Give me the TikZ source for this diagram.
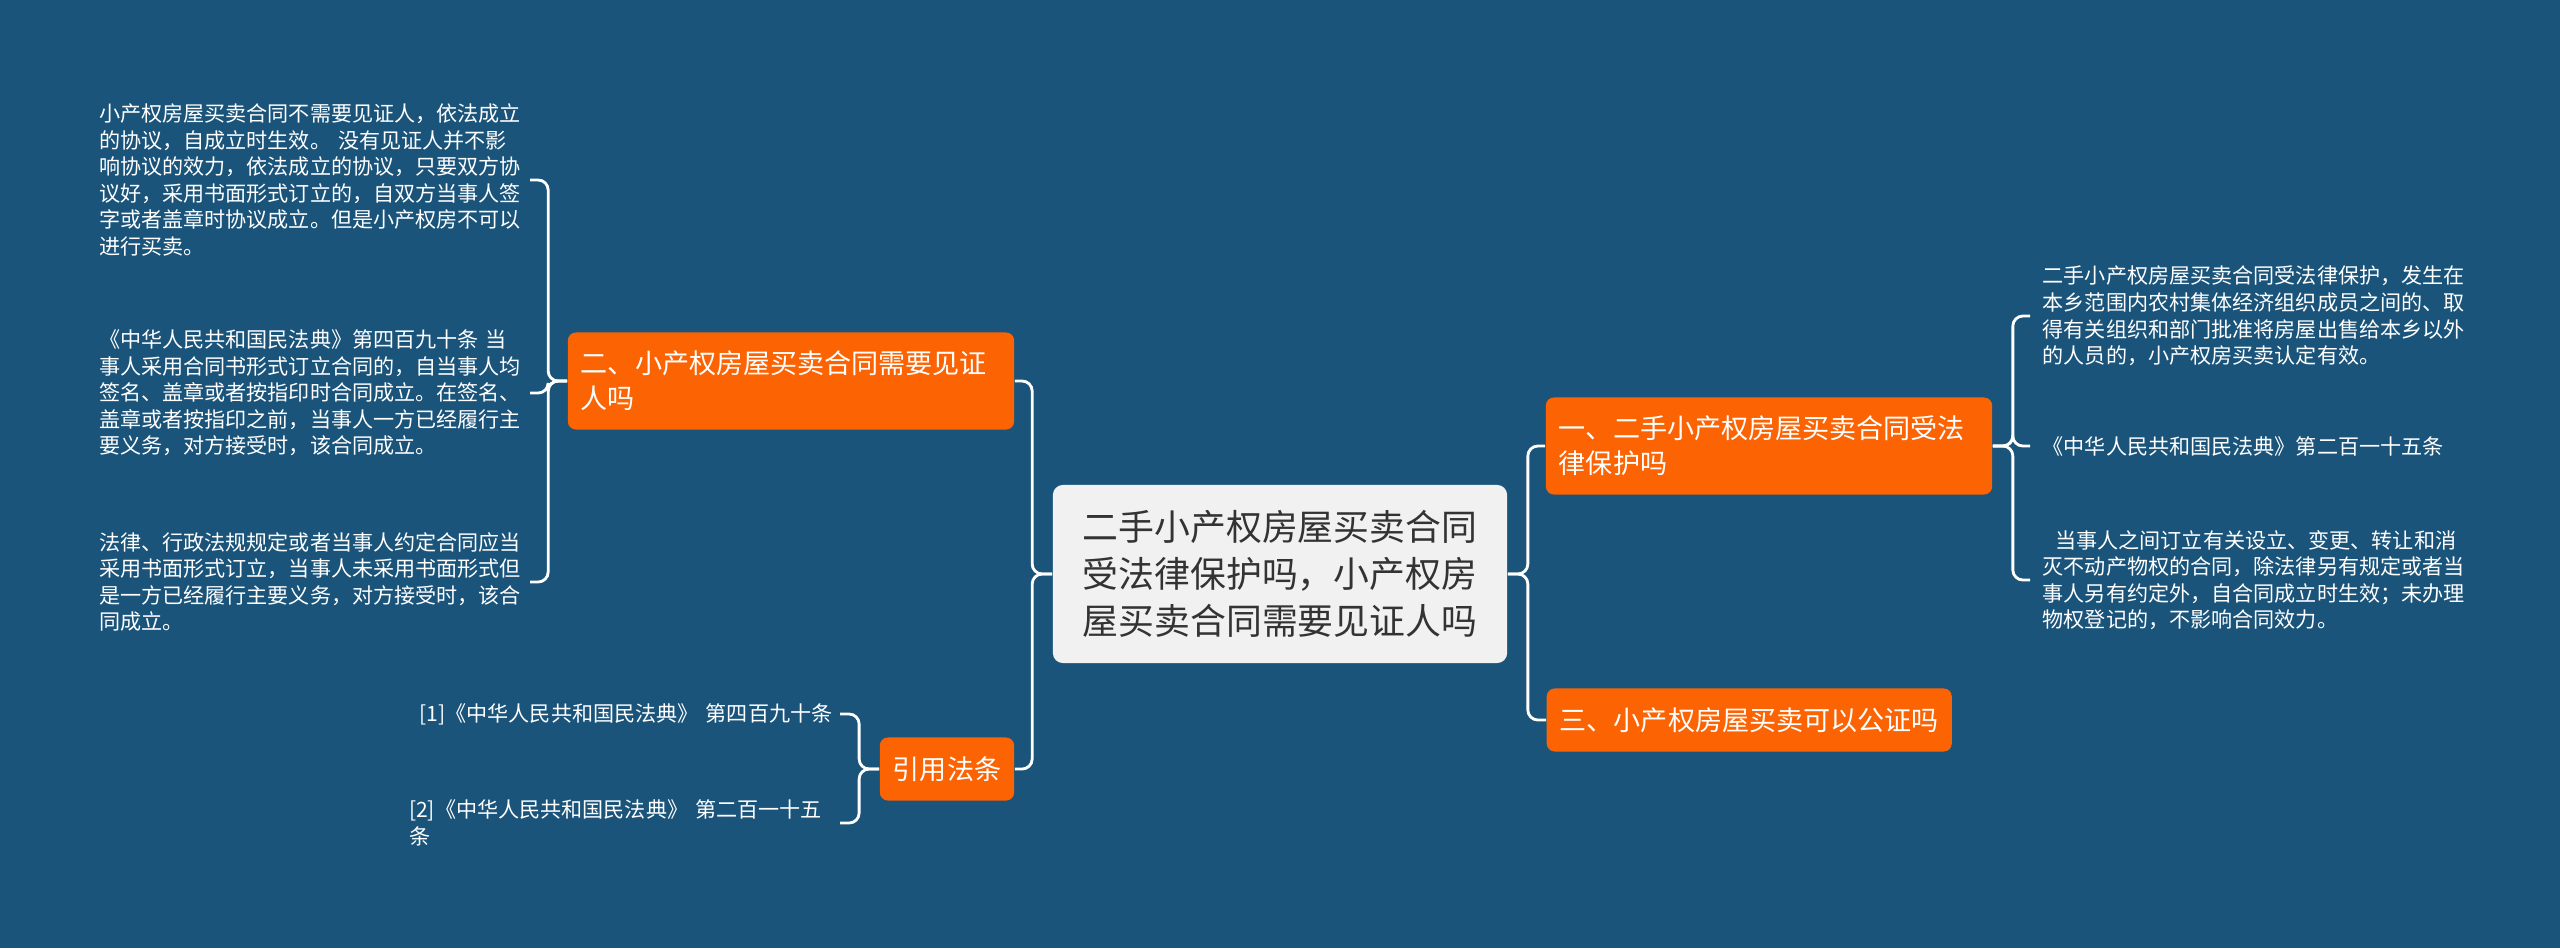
\documentclass[tikz,border=0pt]{standalone}
\usepackage{fontspec}
\setmainfont{Noto Sans CJK SC}
\definecolor{mapbg}{RGB}{26,84,122}
\definecolor{topicorange}{RGB}{252,99,3}
\definecolor{rootgray}{RGB}{241,241,241}
\definecolor{roottext}{RGB}{51,51,51}
\begin{document}
\begin{tikzpicture}[x=0.01cm, y=-0.01cm,
  link/.style={draw=white, line width=0.8pt, rounded corners=0.1cm},
  rootbox/.style={fill=rootgray, text=roottext, rounded corners=0.1cm,
    minimum width=4.54cm, minimum height=1.78cm, align=center, inner sep=0pt,
    font=\fontsize{10.2pt}{13.3pt}\selectfont},
  topic/.style={fill=topicorange, text=white, rounded corners=0.08cm,
    inner xsep=0.13cm, inner ysep=0pt, minimum height=0.63cm,
    font=\fontsize{7.7pt}{10pt}\selectfont},
  topicwide/.style={topic, text width=4.2cm, align=left, minimum height=0.97cm},
  leaf/.style={text=white, text width=4.25cm, align=left,
    inner xsep=0.05cm, inner ysep=0pt, font=\fontsize{6pt}{7.55pt}\selectfont}]

  % ────────────────────────────────────────────────────────────────────
  % canvas
  % ────────────────────────────────────────────────────────────────────
  \fill[mapbg] (0,0) rectangle (2560,948);
  \useasboundingbox (0,0) rectangle (2560,948);

  % ────────────────────────────────────────────────────────────────────
  % root + first-level topics
  % ────────────────────────────────────────────────────────────────────
  \node[rootbox] (root) at (1280,574)
    {二手小产权房屋买卖合同\\受法律保护吗，小产权房\\屋买卖合同需要见证人吗};

  \node[topicwide] (witness) at (791,381)
    {二、小产权房屋买卖合同需要见证\\人吗};
  \node[topic, anchor=center] (refs) at (947,769) {引用法条};
  \node[topicwide] (protect) at (1769,446)
    {一、二手小产权房屋买卖合同受法\\律保护吗};
  \node[topic, anchor=west] (notary) at (1546,720)
    {三、小产权房屋买卖可以公证吗};

  % ────────────────────────────────────────────────────────────────────
  % left leaves (witness)
  % ────────────────────────────────────────────────────────────────────
  \node[leaf, anchor=east] (nowitness) at (530,180)
    {小产权房屋买卖合同不需要见证人，依法成立\\
     的协议，自成立时生效。 没有见证人并不影\\
     响协议的效力，依法成立的协议，只要双方协\\
     议好，采用书面形式订立的，自双方当事人签\\
     字或者盖章时协议成立。但是小产权房不可以\\
     进行买卖。};
  \node[leaf, anchor=east] (art490) at (530,393)
    {《中华人民共和国民法典》第四百九十条 当\\
     事人采用合同书形式订立合同的，自当事人均\\
     签名、盖章或者按指印时合同成立。在签名、\\
     盖章或者按指印之前，当事人一方已经履行主\\
     要义务，对方接受时，该合同成立。};
  \node[leaf, anchor=east] (written) at (530,582)
    {法律、行政法规规定或者当事人约定合同应当\\
     采用书面形式订立，当事人未采用书面形式但\\
     是一方已经履行主要义务，对方接受时，该合\\
     同成立。};

  % references
  \node[leaf, anchor=east] (refone) at (840,714)
    {\hspace{0.5em}[1]《中华人民共和国民法典》 第四百九十条};
  \node[leaf, anchor=east] (reftwo) at (840,823)
    {[2]《中华人民共和国民法典》 第二百一十五\\条};

  % ────────────────────────────────────────────────────────────────────
  % right leaves (protect)
  % ────────────────────────────────────────────────────────────────────
  \node[leaf, inner xsep=0.12cm, anchor=west] (valid) at (2030,316)
    {二手小产权房屋买卖合同受法律保护，发生在\\
     本乡范围内农村集体经济组织成员之间的、取\\
     得有关组织和部门批准将房屋出售给本乡以外\\
     的人员的，小产权房买卖认定有效。};
  \node[leaf, inner xsep=0.12cm, anchor=west] (art215) at (2030,446)
    {《中华人民共和国民法典》第二百一十五条};
  \node[leaf, inner xsep=0.12cm, anchor=west] (effect) at (2030,580)
    {\hspace{0.6em}当事人之间订立有关设立、变更、转让和消\\
     灭不动产物权的合同，除法律另有规定或者当\\
     事人另有约定外，自合同成立时生效；未办理\\
     物权登记的，不影响合同效力。};

  % ────────────────────────────────────────────────────────────────────
  % connectors
  % ────────────────────────────────────────────────────────────────────
  \draw[link] (root.west) -- ++(-20,0) |- (witness.east);
  \draw[link] (root.west) -- ++(-20,0) |- (refs.east);
  \draw[link] (root.east) -- ++(20,0) |- (protect.west);
  \draw[link] (root.east) -- ++(20,0) |- (notary.west);

  \draw[link] (witness.west) -- ++(-19,0) |- (nowitness.east);
  \draw[link] (witness.west) -- ++(-19,0) |- (art490.east);
  \draw[link] (witness.west) -- ++(-19,0) |- (written.east);

  \draw[link] (refs.west) -- ++(-20,0) |- (refone.east);
  \draw[link] (refs.west) -- ++(-20,0) |- (reftwo.east);

  \draw[link] (protect.east) -- ++(20,0) |- (valid.west);
  \draw[link] (protect.east) -- ++(20,0) |- (art215.west);
  \draw[link] (protect.east) -- ++(20,0) |- (effect.west);

\end{tikzpicture}
\end{document}
